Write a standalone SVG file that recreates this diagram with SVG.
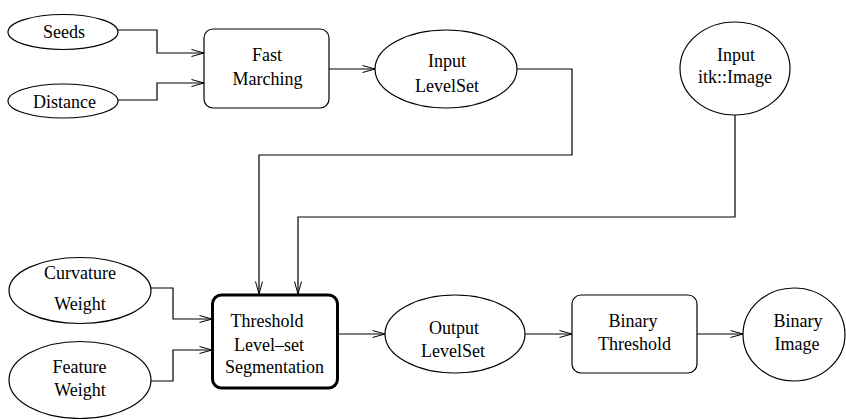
<svg xmlns="http://www.w3.org/2000/svg" width="846" height="419" viewBox="0 0 846 419">
<style>
.n{fill:#fff;stroke:#000;stroke-width:1.2}
.thick{fill:#fff;stroke:#000;stroke-width:3}
.t{font-family:'Liberation Serif','Times New Roman',Times,Tinos,'Nimbus Roman','Nimbus Roman No9 L',FreeSerif,'DejaVu Serif','Noto Serif',serif;font-size:18px;fill:#000;text-anchor:middle}
.c{fill:none;stroke:#000;stroke-width:1.2}
</style>
<defs>
<marker id="a" markerUnits="userSpaceOnUse" markerWidth="14" markerHeight="10" refX="13" refY="4" orient="auto">
<path d="M0.5,0.5 L13,4 L0.5,7.5" fill="none" stroke="#000" stroke-width="1"/>
</marker>
</defs>
<rect width="846" height="419" fill="#fff"/>
<g id="connectors">
<path class="c" d="M118,30 H157 V53 H204" marker-end="url(#a)"/>
<path class="c" d="M118,100 H157 V83 H204" marker-end="url(#a)"/>
<path class="c" d="M329,69 H375" marker-end="url(#a)"/>
<path class="c" d="M517,69 H572 V155 H259 V294" marker-end="url(#a)"/>
<path class="c" d="M735,115 V217 H298 V294" marker-end="url(#a)"/>
<path class="c" d="M151,288 H173 V319 H212" marker-end="url(#a)"/>
<path class="c" d="M151,381 H173 V350 H212" marker-end="url(#a)"/>
<path class="c" d="M338,334 H385" marker-end="url(#a)"/>
<path class="c" d="M525,334 H572" marker-end="url(#a)"/>
<path class="c" d="M697,334 H743" marker-end="url(#a)"/>
</g>
<g id="seeds">
<ellipse class="n" cx="63" cy="32" rx="55" ry="17.5"/>
<text class="t" x="64" y="38">Seeds</text>
</g>
<g id="distance">
<ellipse class="n" cx="63" cy="101" rx="55" ry="17"/>
<text class="t" x="64.5" y="108">Distance</text>
</g>
<g id="fastmarching">
<rect class="n" x="204" y="29" width="125" height="79" rx="9"/>
<text class="t" x="267" y="61">Fast</text>
<text class="t" x="267.5" y="85">Marching</text>
</g>
<g id="inputlevelset">
<ellipse class="n" cx="446" cy="69" rx="71" ry="39"/>
<text class="t" x="447" y="67">Input</text>
<text class="t" x="447" y="92">LevelSet</text>
</g>
<g id="inputimage">
<ellipse class="n" cx="735" cy="68.5" rx="55" ry="46.5"/>
<text class="t" x="736" y="61">Input</text>
<text class="t" x="735" y="83">itk::Image</text>
</g>
<g id="curvature">
<ellipse class="n" cx="80" cy="290.5" rx="71" ry="33"/>
<text class="t" x="80" y="279">Curvature</text>
<text class="t" x="80" y="310">Weight</text>
</g>
<g id="feature">
<ellipse class="n" cx="80" cy="380" rx="71" ry="38.5"/>
<text class="t" x="79.5" y="373">Feature</text>
<text class="t" x="80" y="396">Weight</text>
</g>
<g id="threshold">
<rect class="thick" x="212.5" y="295" width="125" height="93" rx="9"/>
<text class="t" x="267" y="327">Threshold</text>
<text class="t" x="269" y="351">Level–set</text>
<text class="t" x="274.5" y="373">Segmentation</text>
</g>
<g id="outputlevelset">
<ellipse class="n" cx="455" cy="334" rx="70" ry="39"/>
<text class="t" x="454" y="334">Output</text>
<text class="t" x="453" y="357">LevelSet</text>
</g>
<g id="binarythreshold">
<rect class="n" x="572" y="295" width="125" height="78" rx="9"/>
<text class="t" x="633" y="327">Binary</text>
<text class="t" x="634.5" y="350">Threshold</text>
</g>
<g id="binaryimage">
<ellipse class="n" cx="794" cy="334.5" rx="51" ry="46.5"/>
<text class="t" x="798" y="327">Binary</text>
<text class="t" x="797" y="350">Image</text>
</g>
</svg>
